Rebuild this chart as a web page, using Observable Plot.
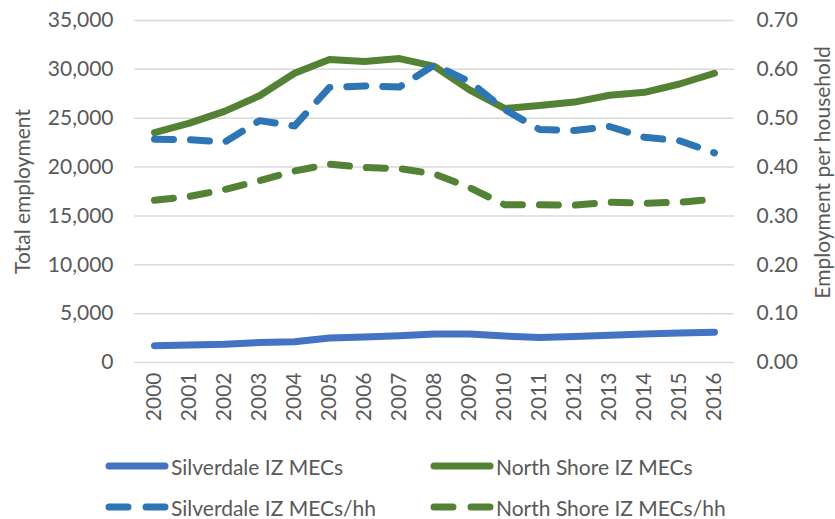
<!DOCTYPE html>
<html><head>
<meta charset="utf-8">
<script src="https://cdn.jsdelivr.net/npm/d3@7"></script>
<script src="https://cdn.jsdelivr.net/npm/@observablehq/plot@0.6"></script>
<style>
body{margin:0;background:#fff;font-family:Lato,"Open Sans",sans-serif;}
#wrap{position:relative;width:835px;height:519px;overflow:hidden;}
#chart{position:absolute;left:0;top:0;}
.leg{position:absolute;display:flex;align-items:center;font-size:21px;color:#595959;white-space:nowrap;}
.leg svg{margin-right:2px;}
</style></head><body>
<div id="wrap"><div id="chart"></div></div>
<script>
const years = ["2000","2001","2002","2003","2004","2005","2006","2007","2008","2009","2010","2011","2012","2013","2014","2015","2016"];
const silverdaleMECs = [1720,1800,1880,2050,2120,2500,2620,2750,2920,2920,2700,2550,2650,2800,2920,3030,3100];
const northShoreMECs = [23530,24500,25700,27300,29600,31000,30800,31100,30300,27900,26000,26300,26650,27350,27650,28500,29600];
const silverdaleMECsPerHH = [0.457,0.456,0.451,0.495,0.484,0.563,0.566,0.564,0.609,0.575,0.518,0.477,0.475,0.483,0.461,0.454,0.429];
const northShoreMECsPerHH = [0.332,0.340,0.354,0.372,0.392,0.406,0.399,0.397,0.386,0.358,0.323,0.323,0.322,0.328,0.326,0.328,0.334];
const leftTicks = [0,5000,10000,15000,20000,25000,30000,35000];
const rightTicks = [0,0.1,0.2,0.3,0.4,0.5,0.6,0.7];
const leftTitle = "Total employment";
const rightTitle = "Employment per household";
const seriesNames = ["Silverdale IZ MECs","North Shore IZ MECs","Silverdale IZ MECs/hh","North Shore IZ MECs/hh"];
const colors = ["#4472C4","#548235","#2E75B6","#548235"];

const RATIO = 35000 / 0.70; // right axis -> left axis units

const rows = [];
years.forEach((y,i)=>{
  rows.push({year:y, s:seriesNames[0], v:silverdaleMECs[i]});
  rows.push({year:y, s:seriesNames[1], v:northShoreMECs[i]});
  rows.push({year:y, s:seriesNames[2], v:silverdaleMECsPerHH[i]*RATIO});
  rows.push({year:y, s:seriesNames[3], v:northShoreMECsPerHH[i]*RATIO});
});
const solid = rows.filter(d=>d.s===seriesNames[0]||d.s===seriesNames[1]);
const dashedBlue = rows.filter(d=>d.s===seriesNames[2]);
const dashedGreen = rows.filter(d=>d.s===seriesNames[3]);
const tickColor = "#595959";

const plot = Plot.plot({
  width: 835,
  height: 440,
  marginLeft: 134,
  marginRight: 101,
  marginTop: 20,
  marginBottom: 78,
  style: {fontFamily: "Lato, 'Open Sans', sans-serif", fontSize: "21px", color: tickColor, background: "#fff"},
  x: {type: "point", domain: years, padding: 0.5},
  y: {domain: [0, 35000]},
  color: {domain: seriesNames, range: colors},
  marks: [
    Plot.gridY(leftTicks, {stroke: "#d9d9d9", strokeOpacity: 1, strokeWidth: 1.5}),
    Plot.axisY({anchor: "left", ticks: leftTicks, tickSize: 0, tickPadding: 21, label: null,
      tickFormat: d => d3.format(",")(d), fontSize: 21, fill: tickColor}),
    Plot.axisY({anchor: "right", ticks: rightTicks.map(v => v*RATIO), tickSize: 0, tickPadding: 22, label: null,
      tickFormat: d => (d/RATIO).toFixed(2), fontSize: 21, fill: tickColor}),
    Plot.axisX({tickRotate: -90, tickSize: 0, tickPadding: 10, label: null, fontSize: 21, fill: tickColor}),
    Plot.text([leftTitle], {frameAnchor: "left", dx: -111, rotate: -90, fontSize: 21, fill: tickColor, lineAnchor: "middle", textAnchor: "middle"}),
    Plot.text([rightTitle], {frameAnchor: "right", dx: 89, dy: -19, rotate: -90, fontSize: 21, fill: tickColor, lineAnchor: "middle", textAnchor: "middle"}),
    Plot.line(dashedGreen, {x: "year", y: "v", stroke: "s", strokeWidth: 7, strokeDasharray: "19,17", strokeLinecap: "round", strokeLinejoin: "round"}),
    Plot.line(solid, {x: "year", y: "v", z: "s", stroke: "s", strokeWidth: 7, strokeLinecap: "round", strokeLinejoin: "round"}),
    Plot.line(dashedBlue, {x: "year", y: "v", stroke: "s", strokeWidth: 7, strokeDasharray: "19,17", strokeLinecap: "round", strokeLinejoin: "round"})
  ]
});
document.getElementById("chart").appendChild(plot);

// legend (HTML below the SVG)
const legendPos = [[105,466],[430,466],[105,507],[430,507]];
seriesNames.forEach((name,i)=>{
  const div = document.createElement("div");
  div.className = "leg";
  div.style.left = legendPos[i][0] + "px";
  div.style.top = (legendPos[i][1] - 15) + "px";
  div.style.height = "30px";
  const dashed = i >= 2;
  div.innerHTML = `<svg width="64" height="12"><line x1="4" y1="6" x2="60" y2="6" stroke="${colors[i]}" stroke-width="7" stroke-linecap="round" ${dashed ? 'stroke-dasharray="19,18"' : ''}/></svg><span>${name}</span>`;
  document.getElementById("wrap").appendChild(div);
});
</script>
</body></html>
